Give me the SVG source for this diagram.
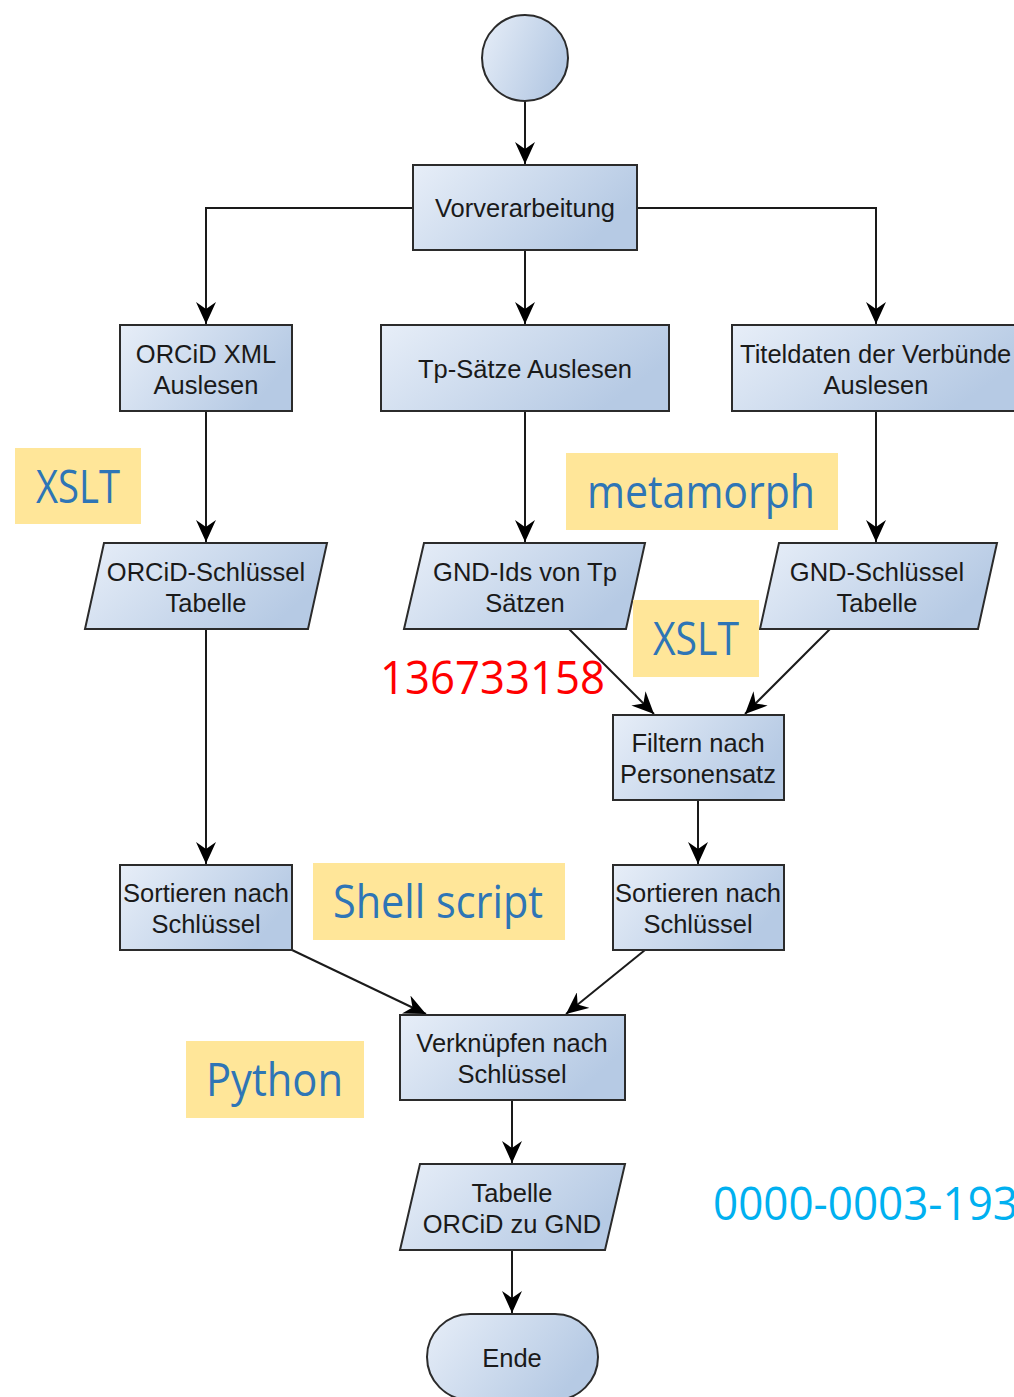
<svg xmlns="http://www.w3.org/2000/svg" width="1014" height="1397" viewBox="0 0 1014 1397">
<style>
.n{stroke:#2b2b2b;stroke-width:2;fill:url(#g)}
.t{font-family:"Liberation Sans",Arial,sans-serif;font-size:25.5px;fill:#1a1a1a;text-anchor:middle}
.c{stroke:#1a1a1a;stroke-width:2;fill:none}
.a{stroke:#1a1a1a;stroke-width:2;fill:none;marker-end:url(#ah)}
.lb{fill:#FFE699}
.lt{font-family:"Open Sans","Noto Sans",sans-serif;font-size:46px;fill:#2E75B6}
</style>
<defs>
<linearGradient id="g" x1="0" y1="0" x2="1" y2="0.4">
<stop offset="0" stop-color="#E7EEF8"/>
<stop offset="1" stop-color="#B6CAE4"/>
</linearGradient>
<marker id="ah" markerUnits="userSpaceOnUse" markerWidth="22" markerHeight="20" viewBox="0 0 22 20" refX="22" refY="10" orient="auto">
<path d="M0,0 L22,10 L0,20 L7,10 Z" fill="#000"/>
</marker>
</defs>
<rect width="1014" height="1397" fill="#fff"/>

<g id="connectors">
<path class="a" d="M525,101 V164"/>
<path class="a" d="M413,208 H206 V324"/>
<path class="a" d="M525,250 V324"/>
<path class="a" d="M637,208 H876 V324"/>
<path class="a" d="M206,411 V542"/>
<path class="a" d="M525,411 V542"/>
<path class="a" d="M876,411 V542"/>
<path class="a" d="M569,629 L654,714"/>
<path class="a" d="M830,629 L745,714"/>
<path class="a" d="M206,629 V864"/>
<path class="a" d="M698,800 V864"/>
<path class="a" d="M292,950 L426,1014"/>
<path class="a" d="M645,950 L566,1014"/>
<path class="a" d="M512,1100 V1163"/>
<path class="a" d="M512,1250 V1313"/>
</g>

<g id="start"><circle class="n" cx="525" cy="58" r="43"/></g>

<g id="vorverarbeitung">
<rect class="n" x="413" y="165" width="224" height="85"/>
<text class="t" x="525" y="217">Vorverarbeitung</text>
</g>

<g id="orcid-xml">
<rect class="n" x="120" y="325" width="172" height="86"/>
<text class="t" x="206" y="363">ORCiD XML</text>
<text class="t" x="206" y="394">Auslesen</text>
</g>

<g id="tp-saetze">
<rect class="n" x="381" y="325" width="288" height="86"/>
<text class="t" x="525" y="378">Tp-Sätze Auslesen</text>
</g>

<g id="titeldaten">
<rect class="n" x="732" y="325" width="290" height="86"/>
<text class="t" x="740" y="363" style="text-anchor:start">Titeldaten der Verbünde</text>
<text class="t" x="876" y="394">Auslesen</text>
</g>

<g id="label-xslt1">
<rect class="lb" x="15" y="448" width="126" height="76"/>
<text class="lt" x="36" y="503" textLength="84" lengthAdjust="spacingAndGlyphs">XSLT</text>
</g>

<g id="label-metamorph">
<rect class="lb" x="566" y="453" width="272" height="77"/>
<text class="lt" x="587" y="508" textLength="228" lengthAdjust="spacingAndGlyphs">metamorph</text>
</g>

<g id="orcid-tabelle">
<polygon class="n" points="104,543 327,543 308,629 85,629"/>
<text class="t" x="206" y="581">ORCiD-Schlüssel</text>
<text class="t" x="206" y="612">Tabelle</text>
</g>

<g id="gnd-ids">
<polygon class="n" points="424,543 645,543 626,629 404,629"/>
<text class="t" x="525" y="581">GND-Ids von Tp</text>
<text class="t" x="525" y="612">Sätzen</text>
</g>

<g id="gnd-tabelle">
<polygon class="n" points="779,543 997,543 978,629 760,629"/>
<text class="t" x="877" y="581">GND-Schlüssel</text>
<text class="t" x="877" y="612">Tabelle</text>
</g>

<g id="label-xslt2">
<rect class="lb" x="633" y="600" width="126" height="77"/>
<text class="lt" x="653" y="655" textLength="86" lengthAdjust="spacingAndGlyphs">XSLT</text>
</g>

<g id="label-id">
<text x="380" y="694" font-family="'Open Sans','Noto Sans',sans-serif" font-size="46" fill="#FF0000" textLength="225" lengthAdjust="spacingAndGlyphs">136733158</text>
</g>

<g id="filtern">
<rect class="n" x="613" y="715" width="171" height="85"/>
<text class="t" x="698" y="752">Filtern nach</text>
<text class="t" x="698" y="783">Personensatz</text>
</g>

<g id="sortieren-left">
<rect class="n" x="120" y="865" width="172" height="85"/>
<text class="t" x="206" y="902">Sortieren nach</text>
<text class="t" x="206" y="933">Schlüssel</text>
</g>

<g id="label-shell">
<rect class="lb" x="313" y="863" width="252" height="77"/>
<text class="lt" x="333" y="918" textLength="210" lengthAdjust="spacingAndGlyphs">Shell script</text>
</g>

<g id="sortieren-right">
<rect class="n" x="613" y="865" width="171" height="85"/>
<text class="t" x="698" y="902">Sortieren nach</text>
<text class="t" x="698" y="933">Schlüssel</text>
</g>

<g id="verknuepfen">
<rect class="n" x="400" y="1015" width="225" height="85"/>
<text class="t" x="512" y="1052">Verknüpfen nach</text>
<text class="t" x="512" y="1083">Schlüssel</text>
</g>

<g id="label-python">
<rect class="lb" x="186" y="1041" width="178" height="77"/>
<text class="lt" x="206" y="1096" textLength="137" lengthAdjust="spacingAndGlyphs">Python</text>
</g>

<g id="tabelle-orcid-gnd">
<polygon class="n" points="420,1164 625,1164 605,1250 400,1250"/>
<text class="t" x="512" y="1202">Tabelle</text>
<text class="t" x="512" y="1233">ORCiD zu GND</text>
</g>

<g id="label-orcid">
<text x="713" y="1220" font-family="'Open Sans','Noto Sans',sans-serif" font-size="46" fill="#00B0F0" textLength="305" lengthAdjust="spacingAndGlyphs">0000-0003-193</text>
</g>

<g id="ende">
<rect class="n" x="427" y="1314" width="171" height="86" rx="43" ry="43"/>
<text class="t" x="512" y="1367">Ende</text>
</g>
</svg>
